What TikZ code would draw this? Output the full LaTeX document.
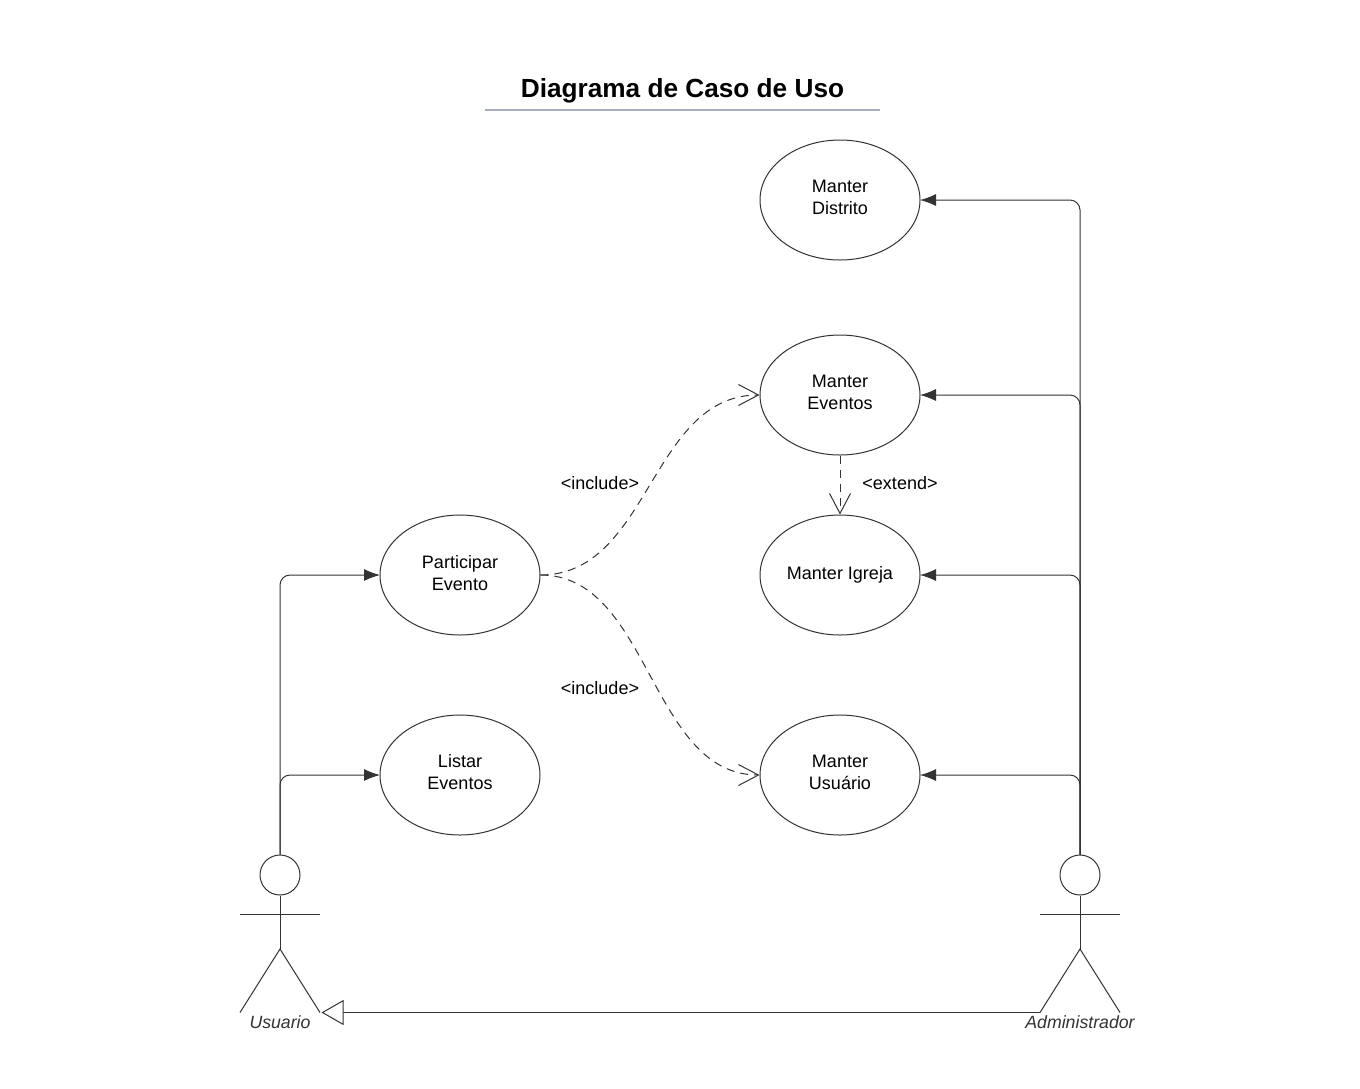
\documentclass[tikz,border=0pt]{standalone}
\usepackage{fontspec}
\setmainfont{Liberation Sans}
\usetikzlibrary{arrows.meta,shapes.geometric}
\newcommand{\lbl}{\fontsize{18}{22}\selectfont}
\newcommand{\upl}[2][1pt]{\raisebox{#1}[0.75em][0.25em]{#2}}
\definecolor{ink}{HTML}{333333}
\definecolor{rulecol}{HTML}{A9AEBC}
\tikzset{
  x=1pt,y=-1pt,
  every path/.style={line width=1pt},
  usecase/.style={draw=ink,ellipse,minimum width=160pt,minimum height=120pt,inner sep=0pt,align=center,font=\lbl,text=black},
  assoc/.style={draw=ink,rounded corners=10pt,shorten >=-0.5pt,-{Latex[length=16pt,width=12pt,color=ink]}},
  dep/.style={draw=ink,dash pattern=on 8pt off 6pt,-{Straight Barb[length=20pt,width=21pt,color=ink,line width=1pt]}},
  gen/.style={draw=ink,shorten >=1.5pt,-{Triangle[open,length=22pt,width=25pt,color=ink,fill=white]}},
  limb/.style={draw=ink},
  head/.style={draw=ink,circle,minimum size=40pt,inner sep=0pt},
  tag/.style={font=\lbl,text=black,inner sep=0pt},
  actorname/.style={font=\fontsize{17.7}{22}\selectfont\itshape,text=ink,inner sep=0pt}
}
\begin{document}
\begin{tikzpicture}
\useasboundingbox (0,0) rectangle (1360,1088);
\fill[white] (0,0) rectangle (1360,1088);
\node[inner sep=0pt,font=\fontsize{26.2}{30}\selectfont\bfseries,text=black] (title) at (682.5,91) {Diagrama de Caso de Uso};
\coordinate (ruleL) at (485,110);
\coordinate (ruleR) at (880,110);
\draw[color=rulecol,line width=1.3pt] (ruleL) -- (ruleR);

\node[usecase] (distrito) at (840,200) {\upl{Manter}\\\upl{Distrito}};
\node[usecase] (eventos) at (840,395) {\upl{Manter}\\\upl{Eventos}};
\node[usecase] (igreja) at (840,575) {\raisebox{2pt}{Manter Igreja}};
\node[usecase] (usuario) at (840,775) {\upl{Manter}\\\upl{Usuário}};
\node[usecase] (participar) at (460,575) {\upl[0pt]{Participar}\\\upl[0pt]{Evento}};
\node[usecase] (listar) at (460,775) {\upl{Listar}\\\upl{Eventos}};

% actors
\node[head] (uh) at (280,875) {};
\coordinate (uhip) at (280,949);
\coordinate (uarmL) at (240,914);
\coordinate (uarmR) at (320,914);
\coordinate (ufootL) at (240,1012.5);
\coordinate (ufootR) at (320,1012.5);
\draw[limb] (uh.south) -- (uhip);
\draw[limb] (uarmL) -- (uarmR);
\draw[limb] (ufootL) -- (uhip) -- (ufootR);
\node[actorname] (un) at (280,1022) {Usuario};

\node[head] (ah) at (1080,875) {};
\coordinate (ahip) at (1080,949);
\coordinate (aarmL) at (1040,914);
\coordinate (aarmR) at (1120,914);
\coordinate (afootL) at (1040,1012.5);
\coordinate (afootR) at (1120,1012.5);
\draw[limb] (ah.south) -- (ahip);
\draw[limb] (aarmL) -- (aarmR);
\draw[limb] (afootL) -- (ahip) -- (afootR);
\node[actorname] (an) at (1080,1022) {Administrador};

% associations
\draw[assoc] (ah.north) |- (distrito.east);
\draw[assoc] (ah.north) |- (eventos.east);
\draw[assoc] (ah.north) |- (igreja.east);
\draw[assoc] (ah.north) |- (usuario.east);
\draw[assoc] (uh.north) |- (participar.west);
\draw[assoc] (uh.north) |- (listar.west);

% dependencies
\draw[dep] (participar.east) .. controls (650,575) and (650,395) .. (eventos.west);
\draw[dep] (participar.east) .. controls (650,575) and (650,775) .. (usuario.west);
\draw[dep] (eventos.south) -- (igreja.north);

% generalisation
\draw[gen] (afootL) -- (ufootR);

\node[tag] (inc1) at (600,483) {<include>};
\node[tag] (inc2) at (600,688) {<include>};
\node[tag] (ext) at (900,483) {<extend>};
\end{tikzpicture}
\end{document}
